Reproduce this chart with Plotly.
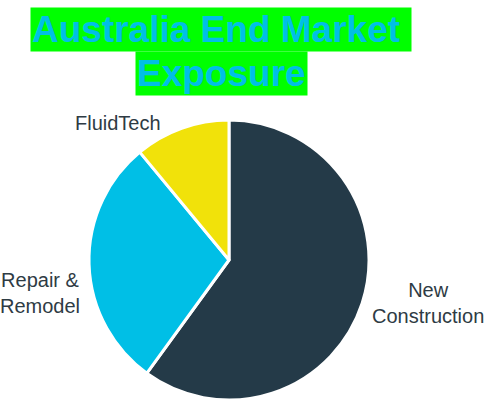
import plotly.graph_objects as go

categories = ["New Construction", "Repair & Remodel", "FluidTech"]
label_text = ["New<br>Construction", "Repair &<br>Remodel", "FluidTech"]
values = [60, 29, 11]
colors = ["#243A48", "#00BFE6", "#F1E20A"]
title_lines = ["Australia End Market\u00a0", "Exposure"]

fig = go.Figure()
fig.add_trace(go.Pie(
    labels=categories,
    values=values,
    sort=False,
    direction="clockwise",
    rotation=0,
    marker=dict(colors=colors, line=dict(color="white", width=3)),
    textinfo="none",
    hoverinfo="label+percent",
    domain=dict(x=[0.1816, 0.7531], y=[0.0, 0.70]),
    showlegend=False,
))

label_pos = [(428, 303), (40, 293), (118, 123)]
for txt, (px, py) in zip(label_text, label_pos):
    fig.add_annotation(
        text=txt, x=px / 490, y=1 - py / 400, xref="paper", yref="paper",
        showarrow=False, xanchor="center", yanchor="middle",
        font=dict(family="Liberation Sans, Arial", size=20, color="#2E3B44"),
    )

title_y = [30, 73.5]
for txt, ty in zip(title_lines, title_y):
    fig.add_annotation(
        text="<b>" + txt + "</b>", x=221 / 490, y=1 - ty / 400,
        xref="paper", yref="paper", showarrow=False,
        xanchor="center", yanchor="middle",
        bgcolor="#00FF00", borderpad=1,
        font=dict(family="Liberation Sans, Arial", size=37, color="#00BFE6"),
    )

fig.update_layout(
    width=490, height=400,
    margin=dict(l=0, r=0, t=0, b=0),
    paper_bgcolor="white", plot_bgcolor="white",
)
fig.write_html(
    "out.html",
    config={"displayModeBar": False},
    post_script="document.body.style.margin='0';document.body.style.overflow='hidden';",
)
